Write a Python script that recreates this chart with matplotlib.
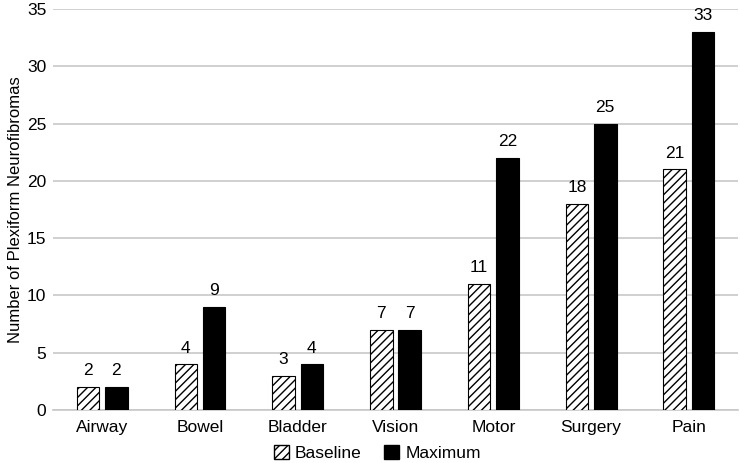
import numpy as np
import matplotlib.pyplot as plt
from matplotlib.patches import Patch

categories = ["Airway", "Bowel", "Bladder", "Vision", "Motor", "Surgery", "Pain"]
baseline = [2, 4, 3, 7, 11, 18, 21]
maximum = [2, 9, 4, 7, 22, 25, 33]

plt.rcParams['font.family'] = ['Liberation Sans', 'DejaVu Sans']
plt.rcParams['hatch.linewidth'] = 1.0

fig = plt.figure(figsize=(7.4, 4.63), dpi=100)
ax = fig.add_axes([0.072, 0.1145, 0.925, 0.866])

x = np.arange(len(categories))
w = 0.23
off = 0.145
ax.bar(x - off, baseline, w, color='white', edgecolor='black', hatch='////', linewidth=0.8, zorder=3)
ax.bar(x + off, maximum, w, color='black', edgecolor='black', linewidth=0.8, zorder=3)

for xi, v in zip(x, baseline):
    ax.text(xi - off, v + 0.75, str(v), ha='center', va='bottom', fontsize=12.5)
for xi, v in zip(x, maximum):
    ax.text(xi + off, v + 0.75, str(v), ha='center', va='bottom', fontsize=12.5)

ax.set_xlim(-0.5, len(categories) - 0.5)
ax.set_ylim(0, 35)
ax.set_yticks(range(0, 36, 5))
ax.set_xticks(x)
ax.set_xticklabels(categories, fontsize=12.5)
ax.tick_params(axis='y', labelsize=12.5, length=0, pad=5)
ax.tick_params(axis='x', length=0, pad=7)
ax.yaxis.grid(True, color='#c8c8c8', linewidth=1.2, zorder=0)
ax.set_axisbelow(True)
for s in ['top', 'right', 'left']:
    ax.spines[s].set_visible(False)
ax.spines['bottom'].set_color('#c8c8c8')
ax.spines['bottom'].set_linewidth(1.2)
ax.set_ylabel("Number of Plexiform Neurofibromas", fontsize=12, labelpad=3)

handles = [Patch(facecolor='white', edgecolor='black', hatch='////', label='Baseline'),
           Patch(facecolor='black', edgecolor='black', label='Maximum')]
fig.legend(handles=handles, loc='lower center', bbox_to_anchor=(0.51, -0.03), ncol=2,
           frameon=False, fontsize=12.5, handlelength=0.85, handleheight=0.85,
           handletextpad=0.35, columnspacing=1.3)

fig.savefig('out.png', dpi=100)
